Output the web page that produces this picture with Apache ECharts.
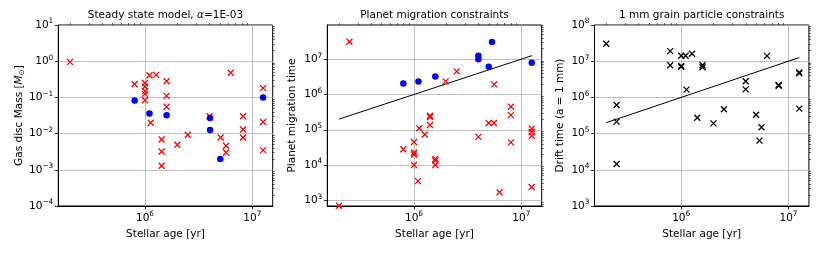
<!DOCTYPE html>
<html>
<head>
<meta charset="utf-8">
<script src="https://cdn.jsdelivr.net/npm/echarts@6/dist/echarts.min.js"></script>
<style>html,body{margin:0;padding:0;background:#fff}#c{width:822px;height:253px}</style>
</head>
<body>
<div id="c"></div>
<script>
// ---------- data ----------
const titles = ['Steady state model, {i|α}=1E-03', 'Planet migration constraints', '1 mm grain particle constraints'];
const yNames = ['Gas disc Mass [{i|M}{sub|⊙}]', 'Planet migration time', 'Drift time (a = 1 mm)'];
const xName = 'Stellar age [yr]';
const xTicks = [1e6, 1e7];
const yTicks1 = [1e-4, 1e-3, 1e-2, 1e-1, 1e0, 1e1];
const yTicks2 = [1e3, 1e4, 1e5, 1e6, 1e7];
const yTicks3 = [1e3, 1e4, 1e5, 1e6, 1e7, 1e8];

// Panel 1: steady state model
const ssRedAge  = [2e5, 8e5, 1e6, 1e6, 1e6, 1e6, 1e6, 1.1e6, 1.27e6, 1.13e6, 1.43e6, 1.43e6, 1.43e6, 1.59e6, 1.59e6, 1.59e6, 2e6, 2.5e6, 4e6, 5.07e6, 5.69e6, 5.69e6, 6.3e6, 8.2e6, 8.2e6, 8.2e6, 1.26e7, 1.26e7, 1.26e7];
const ssRedMass = [0.96, 0.23, 0.25, 0.2, 0.15, 0.125, 0.083, 0.41, 0.42, 0.020, 0.0069, 0.0032, 0.0013, 0.28, 0.11, 0.055, 0.0049, 0.0093, 0.030, 0.0078, 0.0046, 0.0030, 0.48, 0.030, 0.013, 0.0078, 0.18, 0.021, 0.0035];
const ssBlueAge  = [8e5, 1.1e6, 1.59e6, 4.04e6, 4.04e6, 5.03e6, 1.26e7];
const ssBlueMass = [0.082, 0.036, 0.032, 0.027, 0.0125, 0.002, 0.099];

// Panel 2: planet migration
const pmBlueAge  = [7.95e5, 1.1e6, 1.58e6, 3.98e6, 3.98e6, 4.97e6, 5.33e6, 1.25e7];
const pmBlueTime = [2.06e6, 2.34e6, 3.24e6, 1.24e7, 1.0e7, 6.1e6, 3.08e7, 7.9e6];
const pmRedAge  = [2.5e5, 2e5, 7.95e5, 1e6, 1e6, 1e6, 1e6, 1.09e6, 1.12e6, 1.26e6, 1.41e6, 1.41e6, 1.41e6, 1.58e6, 1.58e6, 1.58e6, 1.97e6, 2.5e6, 3.98e6, 4.97e6, 5.56e6, 5.6e6, 6.28e6, 8e6, 8e6, 8e6, 1.25e7, 1.25e7, 1.25e7, 1.25e7];
const pmRedTime = [3.1e7, 700, 2.8e4, 4.5e4, 2.26e4, 2.0e4, 1.0e4, 3.5e3, 1.1e5, 7.3e4, 2.5e5, 2.3e5, 1.37e5, 1.5e4, 1.35e4, 1.0e4, 2.35e6, 4.5e6, 6.3e4, 1.56e5, 1.56e5, 1.93e6, 1.7e3, 4.5e5, 2.6e5, 4.4e4, 1.07e5, 8.6e4, 6.7e4, 2.4e3];

// Panel 3: 1 mm grain drift
const dtAge  = [2e5, 2.5e5, 2.5e5, 2.5e5, 7.9e5, 7.9e5, 1e6, 1e6, 1e6, 1.1e6, 1.26e6, 1.12e6, 1.41e6, 1.58e6, 1.58e6, 2e6, 2.5e6, 3.99e6, 3.99e6, 4.99e6, 5.36e6, 5.6e6, 6.3e6, 8.1e6, 8.1e6, 1.26e7, 1.26e7, 1.26e7];
const dtTime = [3.05e7, 6.2e5, 2.14e5, 1.45e4, 1.9e7, 7.7e6, 1.42e7, 7.4e6, 7.0e6, 1.42e7, 1.6e7, 1.64e6, 2.75e5, 7.7e6, 6.8e6, 1.92e5, 4.7e5, 2.78e6, 1.67e6, 3.3e5, 6.4e4, 1.5e5, 1.4e7, 2.2e6, 2.1e6, 4.9e6, 4.6e6, 4.9e5];

// t = age reference line
const lineAge  = [2e5, 1.26e7];
const lineTime = [2e5, 1.26e7];

// ---------- helpers ----------
const FONT = 'DejaVu Sans';
const FS = 10.5;
const zip = (a, b) => a.map((v, i) => [v, b[i]]);
function minors(lo, hi) {
  const out = [];
  for (let e = Math.floor(Math.log10(lo)); e <= Math.ceil(Math.log10(hi)); e++) {
    for (let m = 2; m <= 9; m++) {
      const v = m * Math.pow(10, e);
      if (v >= lo && v <= hi) out.push(v);
    }
  }
  return out;
}
function powLabel(v) {
  const e = Math.round(Math.log10(v));
  return '{b|10}{s|' + (e < 0 ? '\u2212' + (-e) : e) + '}';
}
const supRich = {
  b: { fontSize: FS, fontFamily: FONT, color: '#000', lineHeight: 14 },
  s: { fontSize: 7.4, fontFamily: FONT, color: '#000', lineHeight: 7, verticalAlign: 'top' }
};
const nameRich = {
  i: { fontStyle: 'italic', fontSize: FS, fontFamily: FONT, color: '#000' },
  sub: { fontSize: 7.4, fontFamily: FONT, color: '#000', verticalAlign: 'bottom', lineHeight: 8 }
};

const XMIN = Math.pow(10, 5.192), XMAX = Math.pow(10, 7.19);
const grids = [
  { left: 58.3, top: 25, width: 214.4, height: 181 },
  { left: 327.3, top: 25, width: 214.4, height: 181 },
  { left: 594.5, top: 25, width: 214.4, height: 181 }
];
const yRanges = [[1e-4, 1e1], [Math.pow(10, 2.84), Math.pow(10, 7.968)], [1e3, 1e8]];
const yMaj = [yTicks1, yTicks2, yTicks3];
const yGaps = [33, 30, 29];

const xAxis = [], yAxis = [];
grids.forEach((g, i) => {
  xAxis.push({
    type: 'log', gridIndex: i, min: XMIN, max: XMAX,
    name: xName, nameLocation: 'middle', nameGap: 20,
    nameTextStyle: { fontSize: FS, fontFamily: FONT, color: '#000' },
    axisLine: { show: true, lineStyle: { color: '#000', width: 1 } },
    axisTick: { show: true, length: 3.5, lineStyle: { color: '#000', width: 0.8 }, customValues: xTicks },
    axisLabel: { show: true, margin: 5, customValues: xTicks, formatter: powLabel, rich: supRich, color: '#000' },
    splitLine: { show: true, lineStyle: { color: '#b0b0b0', width: 0.8 } },
    minorTick: { show: false }
  });
  xAxis.push({
    type: 'log', gridIndex: i, min: XMIN, max: XMAX,
    axisLine: { show: false },
    axisTick: { show: true, length: 2, lineStyle: { color: '#000', width: 0.6 }, customValues: minors(XMIN, XMAX) },
    axisLabel: { show: false },
    splitLine: { show: false }
  });
  const yr = yRanges[i];
  yAxis.push({
    type: 'log', gridIndex: i, min: yr[0], max: yr[1],
    name: yNames[i], nameLocation: 'middle', nameGap: yGaps[i], nameRotate: 90,
    nameTextStyle: { fontSize: FS, fontFamily: FONT, color: '#000', rich: nameRich },
    axisLine: { show: true, lineStyle: { color: '#000', width: 1 } },
    axisTick: { show: true, length: 3.5, lineStyle: { color: '#000', width: 0.8 }, customValues: yMaj[i] },
    axisLabel: { show: true, margin: 5, customValues: yMaj[i], formatter: powLabel, rich: supRich, color: '#000' },
    splitLine: { show: true, lineStyle: { color: '#b0b0b0', width: 0.8 } }
  });
  yAxis.push({
    type: 'log', gridIndex: i, min: yr[0], max: yr[1],
    axisLine: { show: false },
    axisTick: { show: true, length: 2, lineStyle: { color: '#000', width: 0.6 }, customValues: minors(yr[0], yr[1]) },
    axisLabel: { show: false },
    splitLine: { show: false }
  });
});

const CROSS = 'path://M0,0L10,10M10,0L0,10';
function crosses(gi, data, color) {
  return {
    type: 'scatter', xAxisIndex: gi * 2, yAxisIndex: gi * 2, data: data,
    symbol: CROSS, symbolSize: 6, silent: true,
    itemStyle: { color: 'rgba(0,0,0,0)', borderColor: color, borderWidth: 1.3, opacity: 1 }
  };
}
function dots(gi, data) {
  return {
    type: 'scatter', xAxisIndex: gi * 2, yAxisIndex: gi * 2, data: data,
    symbol: 'circle', symbolSize: 6.5, silent: true,
    itemStyle: { color: '#0000ff', opacity: 1 }
  };
}
function refLine(gi) {
  return {
    type: 'line', xAxisIndex: gi * 2, yAxisIndex: gi * 2, data: zip(lineAge, lineTime),
    showSymbol: false, symbol: 'none', silent: true,
    lineStyle: { color: '#000', width: 1 }
  };
}

const option = {
  animation: false,
  backgroundColor: '#fff',
  textStyle: { fontFamily: FONT },
  grid: grids.map(g => Object.assign({ show: true, borderColor: '#000', borderWidth: 1, backgroundColor: 'transparent', containLabel: false }, g)),
  title: grids.map((g, i) => ({
    text: titles[i], left: g.left + g.width / 2, top: 9.5, textAlign: 'center', padding: 0,
    textStyle: { fontSize: FS, fontWeight: 'normal', fontFamily: FONT, color: '#000',
      rich: { i: { fontStyle: 'italic', fontSize: FS, fontFamily: FONT, color: '#000' } } }
  })),
  xAxis: xAxis,
  yAxis: yAxis,
  series: [
    crosses(0, zip(ssRedAge, ssRedMass), '#ff0000'),
    dots(0, zip(ssBlueAge, ssBlueMass)),
    crosses(1, zip(pmRedAge, pmRedTime), '#ff0000'),
    dots(1, zip(pmBlueAge, pmBlueTime)),
    refLine(1),
    crosses(2, zip(dtAge, dtTime), '#000000'),
    refLine(2)
  ]
};
const chart = echarts.init(document.getElementById('c'), null, { renderer: 'canvas' });
chart.setOption(option);
</script>
</body>
</html>
